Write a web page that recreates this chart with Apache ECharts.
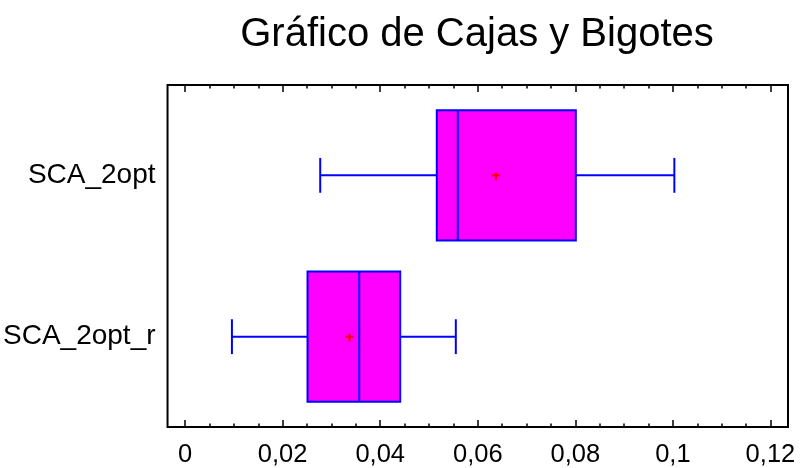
<!DOCTYPE html>
<html>
<head>
<meta charset="utf-8">
<script src="https://cdn.jsdelivr.net/npm/echarts@6/dist/echarts.min.js"></script>
<style>
  html, body { margin: 0; padding: 0; background: #fff; }
  #chart { width: 800px; height: 468px; }
</style>
</head>
<body>
<div id="chart"></div>
<script>
// Group names, drawn top to bottom
const categories = ['SCA_2opt', 'SCA_2opt_r'];
// Five-number summaries: lower whisker, Q1, median, Q3, upper whisker
const whiskerLow = [0.0277, 0.0096];
const q1 = [0.0516, 0.0251];
const median = [0.0559, 0.0357];
const q3 = [0.0801, 0.0441];
const whiskerHigh = [0.1003, 0.0555];
// Group means (red cross)
const means = [0.0637, 0.0337];
// Axis tick values
const majorTicks = [0, 0.02, 0.04, 0.06, 0.08, 0.1, 0.12];
const minorTicks = [];
for (let i = 0; i < majorTicks.length - 1; i++) {
  for (let k = 1; k < 4; k++) minorTicks.push(+(majorTicks[i] + k * 0.005).toFixed(4));
}

const FONT = '"Liberation Sans", Arial, Helvetica, sans-serif';
const BLUE = '#0000ff';

const seriesData = categories.map((c, i) => [i + 1, whiskerLow[i], q1[i], median[i], q3[i], whiskerHigh[i], means[i]]);

const xMin = -0.0036, xMax = 0.1236;

function xAxisDef(position, ticks, len, showLabel) {
  return {
    type: 'value', position: position, min: xMin, max: xMax,
    axisLine: { show: false },
    splitLine: { show: false },
    axisTick: { show: true, inside: true, length: len, customValues: ticks,
                lineStyle: { color: '#000', width: 1.5 } },
    axisLabel: showLabel ? {
      show: true, customValues: majorTicks, margin: 15,
      fontSize: 25.5, color: '#000', fontFamily: FONT,
      formatter: v => String(v).replace('.', ',')
    } : { show: false }
  };
}

const chart = echarts.init(document.getElementById('chart'), null, { renderer: 'canvas' });
chart.setOption({
  animation: false,
  backgroundColor: '#fff',
  title: {
    text: 'Gráfico de Cajas y Bigotes',
    left: 472, top: 10, textAlign: 'center',
    textStyle: { fontSize: 40, fontWeight: 'normal', color: '#000', fontFamily: FONT }
  },
  grid: {
    left: 167, right: 12, top: 85, bottom: 40,
    show: true, borderColor: '#000', borderWidth: 2, backgroundColor: 'transparent'
  },
  xAxis: [
    xAxisDef('bottom', majorTicks, 7, true),
    xAxisDef('bottom', minorTicks, 3.5, false),
    xAxisDef('top', majorTicks, 7, false),
    xAxisDef('top', minorTicks, 3.5, false)
  ],
  yAxis: {
    type: 'value', min: 0.44, max: 2.56, inverse: true,
    axisLine: { show: false }, axisTick: { show: false }, splitLine: { show: false },
    axisLabel: {
      customValues: [1, 2], margin: 12, fontSize: 28, color: '#000', fontFamily: FONT,
      formatter: v => categories[Math.round(v) - 1]
    }
  },
  series: [{
    type: 'custom',
    xAxisIndex: 0,
    clip: false,
    data: seriesData,
    renderItem: function (params, api) {
      const y = api.value(0);
      const v = i => api.value(i);
      const boxHalf = 0.404, capHalf = 0.108;
      const p = (x, yy) => api.coord([x, yy]);
      const line = (a, b, color) => ({
        type: 'line',
        shape: { x1: a[0], y1: a[1], x2: b[0], y2: b[1] },
        style: { stroke: color || BLUE, lineWidth: 2 }
      });
      const b0 = p(v(2), y - boxHalf), b1 = p(v(4), y + boxHalf);
      const m = p(v(6), y);
      return {
        type: 'group',
        children: [
          line(p(v(1), y), p(v(2), y)),
          line(p(v(4), y), p(v(5), y)),
          line(p(v(1), y - capHalf), p(v(1), y + capHalf)),
          line(p(v(5), y - capHalf), p(v(5), y + capHalf)),
          {
            type: 'rect',
            shape: { x: b0[0], y: b0[1], width: b1[0] - b0[0], height: b1[1] - b0[1] },
            style: { fill: '#ff00ff', stroke: BLUE, lineWidth: 2 }
          },
          line(p(v(3), y - boxHalf), p(v(3), y + boxHalf)),
          line([m[0] - 4, m[1]], [m[0] + 4, m[1]], '#ff0000'),
          line([m[0], m[1] - 3], [m[0], m[1] + 5], '#ff0000')
        ]
      };
    }
  }]
});
</script>
</body>
</html>
